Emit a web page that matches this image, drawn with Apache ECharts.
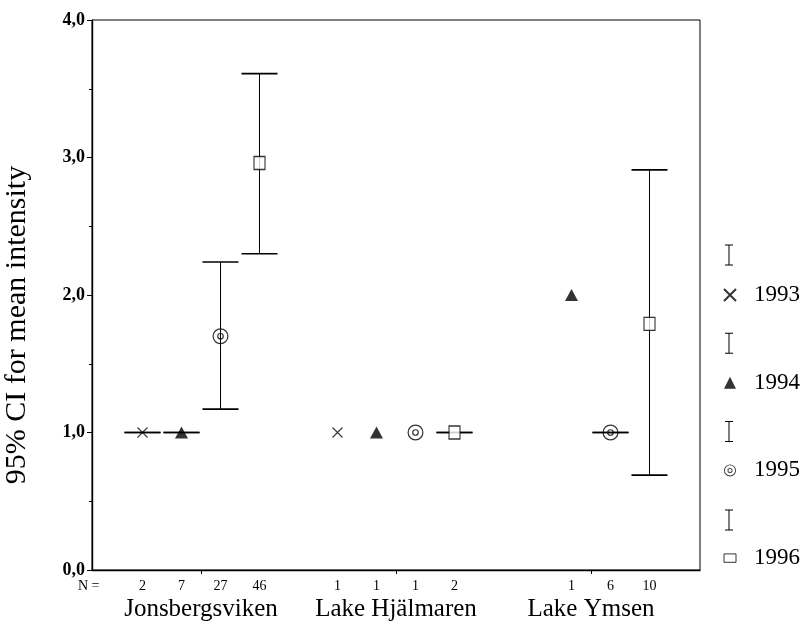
<!DOCTYPE html>
<html><head><meta charset="utf-8">
<script src="https://cdn.jsdelivr.net/npm/echarts@6/dist/echarts.min.js"></script>
<style>html,body{margin:0;padding:0;background:#fff}#c{width:801px;height:629px}</style>
</head><body><div id="c"></div>
<script>
// ---- data ----
const groups = ['Jonsbergsviken', 'Lake Hjälmaren', 'Lake Ymsen'];
const years = ['1993', '1994', '1995', '1996'];
const mean1993 = [1.0, 1.0, null];
const mean1994 = [1.0, 1.0, 2.0];
const mean1995 = [1.70, 1.0, 1.0];
const mean1996 = [2.96, 1.0, 1.79];
const lo1993 = [1.0, null, null];
const hi1993 = [1.0, null, null];
const lo1994 = [1.0, null, null];
const hi1994 = [1.0, null, null];
const lo1995 = [1.17, null, 1.0];
const hi1995 = [2.24, null, 1.0];
const lo1996 = [2.30, 1.0, 0.69];
const hi1996 = [3.61, 1.0, 2.91];
const n1993 = [2, 1, null];
const n1994 = [7, 1, 1];
const n1995 = [27, 1, 6];
const n1996 = [46, 2, 10];
const yTicks = [0, 1, 2, 3, 4];

// ---- layout helpers ----
const slotOffsets = [-0.3, -0.1, 0.1, 0.3];
const means = [mean1993, mean1994, mean1995, mean1996];
const los = [lo1993, lo1994, lo1995, lo1996];
const his = [hi1993, hi1994, hi1995, hi1996];
const ns = [n1993, n1994, n1995, n1996];
const pos = (g, k) => +(g + 1 + slotOffsets[k]).toFixed(2);

const nLookup = {};
const nPositions = [];
ns.forEach((arr, k) => arr.forEach((v, g) => {
  if (v != null) { const p = pos(g, k); nLookup[p.toFixed(2)] = v; nPositions.push(p); }
}));
nPositions.sort((a, b) => a - b);

const serif = 'Liberation Serif';
const symX = 'path://M0,0L10,10M10,0L0,10';
const symRing = 'path://M10,0A10,10 0 1 1 10,20A10,10 0 1 1 10,0Z M10,1.5A8.5,8.5 0 1 0 10,18.5A8.5,8.5 0 1 0 10,1.5Z M10,5.8A4.2,4.2 0 1 1 10,14.2A4.2,4.2 0 1 1 10,5.8Z M10,7.3A2.7,2.7 0 1 0 10,12.7A2.7,2.7 0 1 0 10,7.3Z';
const symIbeam = 'path://M0,0H8V1H4.5V20H8V21H0V20H3.5V1H0Z';
const symSmallRect = 'path://M0,0H10V7H0Z';

const markerStyle = [
  { symbol: symX, symbolSize: 10, itemStyle: { color: 'transparent', borderColor: '#000', borderWidth: 1.1 } },
  { symbol: 'triangle', symbolSize: [13, 12], itemStyle: { color: '#000' } },
  { symbol: symRing, symbolSize: 16, itemStyle: { color: '#000' } },
  { symbol: 'rect', symbolSize: [11, 13], itemStyle: { color: '#fff', borderColor: '#000', borderWidth: 1.2 } }
];

function renderErr(params, api) {
  const x = api.value(0), lo = api.value(1), hi = api.value(2);
  const t = api.coord([x, hi]), b = api.coord([x, lo]);
  const hw = 18;
  return { type: 'group', children: [
    { type: 'line', shape: { x1: t[0], y1: t[1], x2: b[0], y2: b[1] }, style: { stroke: '#000', lineWidth: 1 } },
    { type: 'line', shape: { x1: t[0] - hw, y1: t[1], x2: t[0] + hw, y2: t[1] }, style: { stroke: '#000', lineWidth: 1.6 } },
    { type: 'line', shape: { x1: b[0] - hw, y1: b[1], x2: b[0] + hw, y2: b[1] }, style: { stroke: '#000', lineWidth: 1.6 } }
  ]};
}

const series = [];
years.forEach((y, k) => {
  const d = [];
  los[k].forEach((lo, g) => { if (lo != null) d.push([pos(g, k), lo, his[k][g]]); });
  series.push({ name: 'CI ' + y, type: 'custom', renderItem: renderErr, data: d,
    encode: { x: 0, y: [1, 2] }, itemStyle: { color: '#000' }, z: 2, silent: true });
});
years.forEach((y, k) => {
  const d = [];
  means[k].forEach((m, g) => { if (m != null) d.push([pos(g, k), m]); });
  series.push(Object.assign({ name: y, type: 'scatter', data: d, z: 5, silent: true }, markerStyle[k]));
});

const xCommon = { type: 'value', min: 0.441, max: 3.559, gridIndex: 0, splitLine: { show: false } };

const option = {
  animation: false,
  backgroundColor: '#fff',
  grid: { left: 92, right: 101, top: 20, bottom: 59, containLabel: false, outerBoundsMode: 'none',
    show: true, borderColor: '#000', borderWidth: 1, backgroundColor: 'transparent' },
  xAxis: [
    Object.assign({}, xCommon, {
      position: 'bottom',
      axisLine: { lineStyle: { color: '#000', width: 1.4 } },
      axisTick: { show: true, inside: false, length: 4, customValues: [1, 2, 3], lineStyle: { color: '#000' } },
      axisLabel: { customValues: [1, 2, 3], formatter: v => groups[Math.round(v) - 1], margin: 27,
        fontFamily: serif, fontSize: 25, color: '#000' }
    }),
    Object.assign({}, xCommon, {
      position: 'bottom',
      axisLine: { show: false },
      axisTick: { show: false },
      axisLabel: { customValues: nPositions, formatter: v => String(nLookup[(+v).toFixed(2)] ?? ''), margin: 9,
        fontFamily: serif, fontSize: 14, color: '#000' }
    })
  ],
  yAxis: {
    type: 'value', min: 0, max: 4, interval: 1,
    name: '95% CI for mean intensity', nameLocation: 'middle', nameGap: 60,
    nameTextStyle: { fontFamily: serif, fontSize: 30, color: '#000', padding: [0, 60, 0, 0] },
    axisLine: { show: true, lineStyle: { color: '#000', width: 1.4 } },
    axisTick: { show: true, inside: false, length: 5, lineStyle: { color: '#000' } },
    minorTick: { show: true, splitNumber: 2, length: 3, lineStyle: { color: '#000' } },
    splitLine: { show: false },
    axisLabel: { formatter: v => yTicks.includes(v) ? v.toFixed(1).replace('.', ',') : '', margin: 7,
      fontFamily: serif, fontSize: 18, fontWeight: 'bold', color: '#000' }
  },
  legend: [
    {
      data: [
        { name: '1993' }, { name: '1994' }, { name: '1995' },
        { name: '1996', icon: symSmallRect, itemStyle: { color: '#fff', borderColor: '#000', borderWidth: 1 } }
      ],
      orient: 'vertical', left: 723, top: 283.5, padding: 0, itemWidth: 12, itemHeight: 12, itemGap: 64.7,
      selectedMode: false,
      textStyle: { fontFamily: serif, fontSize: 23, color: '#000', padding: [0, 0, 0, 13] }
    },
    {
      data: years.map(y => ({ name: 'CI ' + y, icon: symIbeam, itemStyle: { color: '#000' } })),
      orient: 'vertical', left: 725, top: 244.5, padding: 0, itemWidth: 8, itemHeight: 21, itemGap: 67.3,
      selectedMode: false, formatter: () => '',
      textStyle: { fontSize: 1, lineHeight: 1 }
    }
  ],
  graphic: [
    { type: 'text', left: 78, top: 579, style: { text: 'N =', fontFamily: serif, fontSize: 14, fill: '#000' } }
  ],
  series: series
};

const chart = echarts.init(document.getElementById('c'), null, { renderer: 'canvas' });
chart.setOption(option);
</script>
</body></html>
